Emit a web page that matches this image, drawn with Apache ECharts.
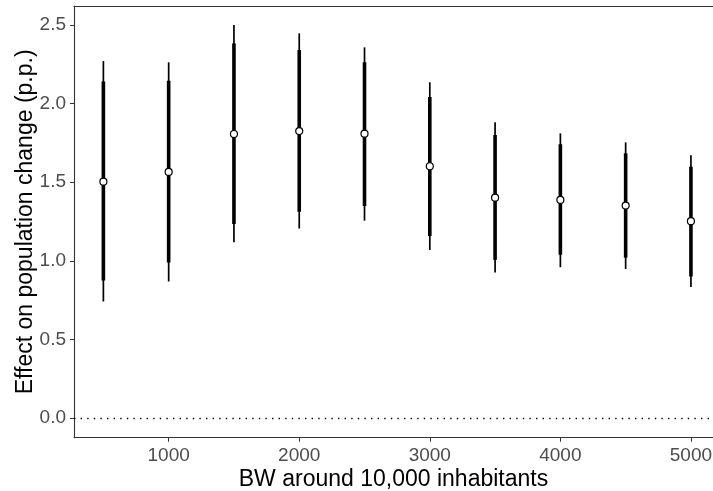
<!DOCTYPE html>
<html>
<head>
<meta charset="utf-8">
<script src="https://cdn.jsdelivr.net/npm/echarts@6/dist/echarts.min.js"></script>
<style>
  html, body { margin: 0; padding: 0; background: #fff; }
  #container { width: 713px; height: 491px; }
</style>
</head>
<body>
<div id="container"></div>
<script>
// bandwidths and estimates (p.p.)
var bw = [500, 1000, 1500, 2000, 2500, 3000, 3500, 4000, 4500, 5000];
var est = [1.503, 1.565, 1.806, 1.825, 1.808, 1.601, 1.401, 1.387, 1.351, 1.252];
var lo95 = [0.741, 0.868, 1.118, 1.205, 1.255, 1.069, 0.925, 0.959, 0.948, 0.834];
var hi95 = [2.270, 2.262, 2.499, 2.446, 2.357, 2.135, 1.881, 1.810, 1.753, 1.671];
var lo90 = [0.874, 0.989, 1.234, 1.311, 1.349, 1.158, 1.006, 1.038, 1.020, 0.900];
var hi90 = [2.140, 2.145, 2.382, 2.340, 2.262, 2.041, 1.800, 1.741, 1.683, 1.598];
var xTicks = [1000, 2000, 3000, 4000, 5000];
var yTicks = [0, 0.5, 1, 1.5, 2, 2.5];

var font = 'Liberation Sans, Arial, sans-serif';

function segData(lo, hi) {
    var out = [];
    for (var i = 0; i < bw.length; i++) {
        out.push([bw[i], lo[i], hi[i]]);
    }
    return out;
}

function segRender(width) {
    return function (params, api) {
        var p1 = api.coord([api.value(0), api.value(1)]);
        var p2 = api.coord([api.value(0), api.value(2)]);
        return {
            type: 'line',
            shape: { x1: p1[0], y1: p1[1], x2: p2[0], y2: p2[1] },
            style: { stroke: '#000', lineWidth: width }
        };
    };
}

var myChart = echarts.init(document.getElementById('container'));
var option = {
    animation: false,
    grid: { left: 74, right: 0, top: 6, bottom: 53.3, outerBoundsMode: 'none' },
    xAxis: [{
        type: 'value',
        min: 275,
        max: 5169,
        name: 'BW around 10,000 inhabitants',
        nameLocation: 'middle',
        nameGap: 30,
        nameMoveOverlap: false,
        nameTextStyle: { color: '#000', fontSize: 23, fontFamily: font },
        splitLine: { show: false },
        axisLine: { show: true, onZero: false, lineStyle: { color: '#333', width: 1.1 } },
        axisTick: { show: true, length: 4, customValues: xTicks, lineStyle: { color: '#333' } },
        axisLabel: {
            customValues: xTicks, color: '#4d4d4d', fontSize: 19, fontFamily: font, margin: 9,
            formatter: function (v) { return String(v); }
        }
    }, {
        type: 'value',
        position: 'top',
        min: 275,
        max: 5169,
        splitLine: { show: false },
        axisLine: { show: true, onZero: false, lineStyle: { color: '#333', width: 1.1 } },
        axisTick: { show: false },
        axisLabel: { show: false }
    }],
    yAxis: {
        type: 'value',
        min: -0.125,
        max: 2.62,
        name: 'Effect on population change (p.p.)',
        nameLocation: 'middle',
        nameGap: 37,
        nameMoveOverlap: false,
        nameTextStyle: { color: '#000', fontSize: 23, fontFamily: font },
        splitLine: { show: false },
        axisLine: { show: true, onZero: false, lineStyle: { color: '#333', width: 1.1 } },
        axisTick: { show: true, length: 4, customValues: yTicks, lineStyle: { color: '#333' } },
        axisLabel: {
            customValues: yTicks, color: '#4d4d4d', fontSize: 19, fontFamily: font, margin: 8,
            formatter: function (v) { return v.toFixed(1); }
        }
    },
    series: [
        {
            type: 'custom',
            renderItem: segRender(1.7),
            data: segData(lo95, hi95),
            encode: { x: 0, y: [1, 2] },
            markLine: {
                silent: true,
                symbol: 'none',
                label: { show: false },
                lineStyle: { color: '#000', type: [1.4, 5.2], width: 1.4 },
                data: [{ yAxis: 0 }]
            },
            z: 2
        },
        {
            type: 'custom',
            renderItem: segRender(3.6),
            data: segData(lo90, hi90),
            encode: { x: 0, y: [1, 2] },
            z: 3
        },
        {
            type: 'scatter',
            data: bw.map(function (b, i) { return [b, est[i]]; }),
            symbol: 'circle',
            symbolSize: 7,
            itemStyle: { color: '#fff', borderColor: '#000', borderWidth: 1.2, opacity: 1 },
            z: 4
        }
    ]
};
myChart.setOption(option);
</script>
</body>
</html>
